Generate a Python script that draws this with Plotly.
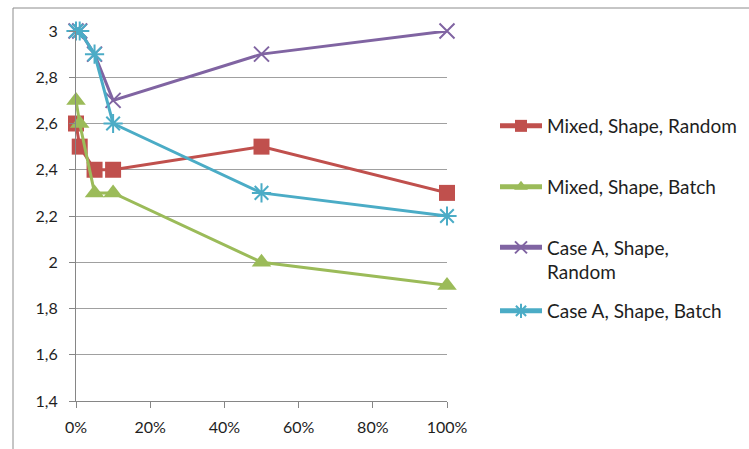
import plotly.graph_objects as go

# Share of items (x) and the measured score for each configuration
x_share = [0.0, 0.01, 0.05, 0.10, 0.50, 1.00]
mixed_random = [2.6, 2.5, 2.4, 2.4, 2.5, 2.3]
mixed_batch = [2.7, 2.6, 2.3, 2.3, 2.0, 1.9]
case_a_random = [3.0, 3.0, 2.9, 2.7, 2.9, 3.0]
case_a_batch = [3.0, 3.0, 2.9, 2.6, 2.3, 2.2]

series_names = [
    "Mixed, Shape, Random",
    "Mixed, Shape, Batch",
    "Case A, Shape,<br>Random",
    "Case A, Shape, Batch",
]

y_ticks = [1.4, 1.6, 1.8, 2.0, 2.2, 2.4, 2.6, 2.8, 3.0]
y_tick_text = ["1,4", "1,6", "1,8", "2", "2,2", "2,4", "2,6", "2,8", "3"]
x_ticks = [0.0, 0.2, 0.4, 0.6, 0.8, 1.0]
x_tick_text = ["0%", "20%", "40%", "60%", "80%", "100%"]

W, H = 749, 449
FONT = "Lato, Carlito, Calibri, sans-serif"
TEXT = "#1e1e1e"
AXIS = "#868686"

styles = [
    dict(color="#C0504D", symbol="square", size=16, lw=0),
    dict(color="#9BBB59", symbol="triangle-up", size=17, lw=0),
    dict(color="#8064A2", symbol="x-thin-open", size=15, lw=2),
    dict(color="#4BACC6", symbol="asterisk-open", size=16, lw=2),
]
values = [mixed_random, mixed_batch, case_a_random, case_a_batch]
legend_ids = ["legend", "legend2", "legend3", "legend4"]
# legend entry centres (pixels from the top of the page)
legend_y_px = [126, 187, 260, 311]

fig = go.Figure()
for name, ys, st, lg in zip(series_names, values, styles, legend_ids):
    fig.add_trace(go.Scatter(
        x=x_share, y=ys, name=name, mode="lines+markers",
        line=dict(color=st["color"], width=3),
        marker=dict(symbol=st["symbol"], size=st["size"], color=st["color"],
                    line=dict(color=st["color"], width=st["lw"])),
        cliponaxis=False, legend=lg,
    ))

legend_common = dict(
    xref="container", yref="container", xanchor="left", yanchor="middle",
    font=dict(family=FONT, size=19, color=TEXT), bgcolor="rgba(0,0,0,0)",
    itemwidth=42, borderwidth=0, itemsizing="constant",
)
layout_legends = {}
for lg, ypx in zip(legend_ids, legend_y_px):
    layout_legends[lg] = dict(legend_common, x=495 / W, y=1 - ypx / H,
                              valign="top")

fig.update_layout(
    width=W, height=H, autosize=False,
    margin=dict(l=76, r=W - 447, t=31, b=H - 401, pad=0),
    paper_bgcolor="white", plot_bgcolor="white",
    font=dict(family=FONT, size=16, color=TEXT),
    showlegend=True,
    xaxis=dict(range=[0, 1], tickvals=x_ticks, ticktext=x_tick_text,
               showgrid=False, zeroline=False, showline=True, linecolor=AXIS,
               linewidth=1, ticks="outside", ticklen=6, tickcolor=AXIS,
               ticklabelstandoff=6, fixedrange=True),
    yaxis=dict(range=[1.4, 3.0], tickvals=y_ticks, ticktext=y_tick_text,
               showgrid=True, gridcolor="#A0A0A0", gridwidth=1,
               zeroline=False, showline=True, linecolor=AXIS, linewidth=1,
               ticks="outside", ticklen=6, tickcolor=AXIS,
               ticklabelstandoff=8, fixedrange=True),
    **layout_legends,
)

# chart-area frame: top and left edges
frame_x = (13 - 76) / 371
frame_y = (401 - 8) / 370
fig.add_shape(type="line", xref="paper", yref="paper",
              x0=frame_x, x1=(W - 76) / 371, y0=frame_y, y1=frame_y,
              line=dict(color="#8C8C8C", width=1))
fig.add_shape(type="line", xref="paper", yref="paper",
              x0=frame_x, x1=frame_x, y0=frame_y, y1=(401 - H) / 370,
              line=dict(color="#8C8C8C", width=1))

fig.write_html("out.html", config={"displayModeBar": False})
